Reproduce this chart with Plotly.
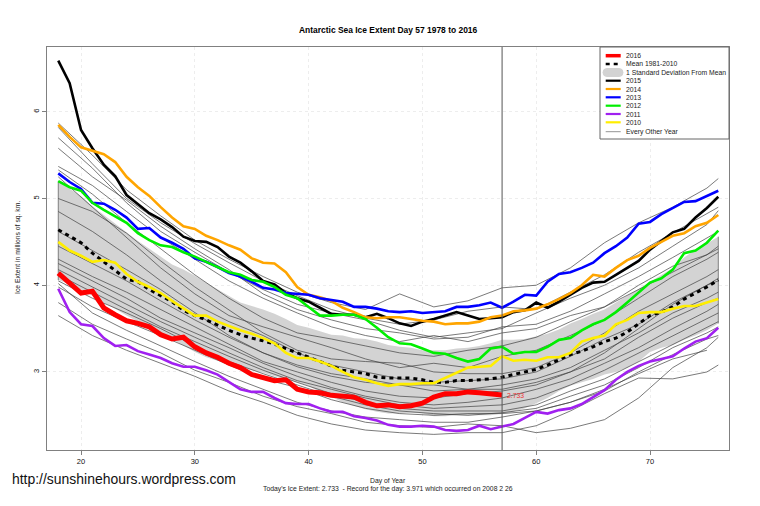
import plotly.graph_objects as go

# day of year axis for the highlighted years
days = list(range(18, 77))
days_2016 = list(range(18, 58))
# thin lines were read every third day
thin_days = [18, 21, 24, 27, 30, 33, 36, 39, 42, 45, 48, 51, 54, 57, 60, 63, 66, 69, 72, 75, 76]

ice_2016 = [4.14, 4.03, 3.91, 3.93, 3.74, 3.66, 3.59, 3.56, 3.52, 3.43, 3.38, 3.40, 3.29, 3.22, 3.17, 3.10, 3.05, 2.97, 2.93, 2.90,
            2.91, 2.80, 2.77, 2.76, 2.73, 2.72, 2.71, 2.65, 2.61, 2.62, 2.60, 2.61, 2.64, 2.71, 2.75, 2.75, 2.77, 2.76, 2.75, 2.733]
ice_mean = [4.64, 4.57, 4.49, 4.37, 4.27, 4.18, 4.07, 4.04, 3.95, 3.88, 3.81, 3.71, 3.65, 3.60, 3.54, 3.48, 3.43, 3.39, 3.36, 3.32,
            3.27, 3.22, 3.17, 3.12, 3.07, 3.02, 3.00, 2.98, 2.94, 2.93, 2.93, 2.93, 2.91, 2.88, 2.88, 2.90, 2.90, 2.91, 2.92, 2.94,
            2.97, 3.00, 3.03, 3.08, 3.14, 3.20, 3.24, 3.29, 3.35, 3.39, 3.46, 3.55, 3.65, 3.69, 3.75, 3.84, 3.91, 3.98, 4.06]
band_upper = [5.20, 5.12, 5.03, 4.91, 4.81, 4.70, 4.61, 4.51, 4.42, 4.33, 4.24, 4.18, 4.11, 4.03, 3.95, 3.87, 3.80, 3.76, 3.72, 3.67,
              3.61, 3.54, 3.51, 3.47, 3.43, 3.42, 3.39, 3.38, 3.35, 3.31, 3.29, 3.28, 3.25, 3.25, 3.25, 3.27, 3.28, 3.30, 3.33, 3.37,
              3.37, 3.38, 3.41, 3.44, 3.49, 3.56, 3.61, 3.67, 3.72, 3.80, 3.88, 3.96, 4.04, 4.12, 4.20, 4.32, 4.41, 4.48, 4.56]
band_lower = [4.06, 4.01, 3.95, 3.88, 3.80, 3.73, 3.65, 3.58, 3.51, 3.44, 3.38, 3.31, 3.23, 3.17, 3.13, 3.09, 3.06, 3.02, 2.99, 2.95,
              2.92, 2.88, 2.84, 2.77, 2.71, 2.65, 2.61, 2.57, 2.54, 2.52, 2.52, 2.53, 2.52, 2.49, 2.49, 2.50, 2.50, 2.50, 2.50, 2.52,
              2.54, 2.58, 2.64, 2.70, 2.78, 2.84, 2.88, 2.92, 2.97, 3.00, 3.05, 3.12, 3.23, 3.28, 3.31, 3.37, 3.42, 3.48, 3.56]
ice_2015 = [6.59, 6.33, 5.79, 5.58, 5.39, 5.26, 5.04, 4.93, 4.83, 4.76, 4.67, 4.56, 4.51, 4.50, 4.44, 4.33, 4.26, 4.16, 4.05, 4.01,
            3.91, 3.85, 3.81, 3.74, 3.67, 3.66, 3.66, 3.63, 3.67, 3.62, 3.56, 3.53, 3.58, 3.61, 3.65, 3.69, 3.65, 3.61, 3.62, 3.63,
            3.69, 3.71, 3.80, 3.74, 3.81, 3.89, 3.97, 4.03, 4.04, 4.12, 4.20, 4.28, 4.41, 4.51, 4.61, 4.65, 4.78, 4.89, 5.02]
ice_2014 = [5.85, 5.71, 5.59, 5.55, 5.51, 5.42, 5.25, 5.13, 5.03, 4.90, 4.78, 4.68, 4.65, 4.57, 4.52, 4.46, 4.41, 4.31, 4.26, 4.25,
            4.15, 3.98, 3.89, 3.86, 3.82, 3.74, 3.69, 3.63, 3.62, 3.63, 3.63, 3.61, 3.59, 3.58, 3.55, 3.56, 3.56, 3.58, 3.63, 3.65,
            3.70, 3.71, 3.73, 3.78, 3.84, 3.91, 4.00, 4.12, 4.10, 4.20, 4.29, 4.34, 4.43, 4.50, 4.57, 4.60, 4.68, 4.72, 4.81]
ice_2013 = [5.29, 5.19, 5.11, 4.95, 4.94, 4.87, 4.78, 4.65, 4.66, 4.55, 4.49, 4.42, 4.31, 4.27, 4.21, 4.14, 4.10, 4.04, 3.97, 3.95,
            3.91, 3.90, 3.89, 3.85, 3.83, 3.81, 3.75, 3.75, 3.73, 3.70, 3.69, 3.70, 3.68, 3.69, 3.70, 3.75, 3.75, 3.77, 3.80, 3.74,
            3.81, 3.89, 3.88, 4.04, 4.13, 4.15, 4.20, 4.26, 4.37, 4.45, 4.55, 4.71, 4.73, 4.82, 4.89, 4.96, 4.97, 5.03, 5.09]
ice_2012 = [5.20, 5.13, 5.09, 4.95, 4.87, 4.79, 4.72, 4.60, 4.52, 4.46, 4.44, 4.38, 4.33, 4.27, 4.21, 4.15, 4.12, 4.06, 4.04, 3.98,
            3.89, 3.85, 3.75, 3.65, 3.65, 3.66, 3.66, 3.61, 3.51, 3.40, 3.33, 3.32, 3.27, 3.22, 3.21, 3.16, 3.12, 3.15, 3.27, 3.29,
            3.21, 3.23, 3.23, 3.29, 3.37, 3.39, 3.48, 3.55, 3.60, 3.69, 3.80, 3.91, 4.03, 4.08, 4.18, 4.37, 4.40, 4.49, 4.63]
ice_2011 = [3.96, 3.69, 3.55, 3.53, 3.39, 3.30, 3.31, 3.24, 3.20, 3.16, 3.10, 3.06, 3.06, 3.02, 2.97, 2.88, 2.80, 2.77, 2.77, 2.70,
            2.64, 2.63, 2.63, 2.58, 2.54, 2.54, 2.49, 2.47, 2.44, 2.39, 2.37, 2.37, 2.38, 2.37, 2.33, 2.32, 2.33, 2.38, 2.34, 2.37,
            2.40, 2.47, 2.54, 2.52, 2.56, 2.58, 2.63, 2.71, 2.79, 2.91, 3.00, 3.07, 3.12, 3.15, 3.18, 3.27, 3.35, 3.39, 3.51]
ice_2010 = [4.50, 4.40, 4.34, 4.27, 4.29, 4.26, 4.13, 4.04, 3.98, 3.91, 3.82, 3.73, 3.65, 3.65, 3.58, 3.53, 3.48, 3.44, 3.39, 3.33,
            3.22, 3.16, 3.16, 3.12, 3.07, 3.00, 2.94, 2.91, 2.87, 2.84, 2.86, 2.86, 2.87, 2.87, 2.93, 2.99, 3.05, 3.06, 3.07, 3.18,
            3.13, 3.14, 3.13, 3.17, 3.17, 3.22, 3.35, 3.39, 3.42, 3.55, 3.60, 3.68, 3.69, 3.69, 3.73, 3.76, 3.76, 3.80, 3.84]

thin_01 = [5.87, 5.50, 5.10, 4.80, 4.52, 4.30, 4.10, 3.92, 3.80, 3.72, 3.90, 3.75, 3.82, 3.97, 4.00, 4.20, 4.49, 4.72, 4.90, 5.12, 5.23]
thin_02 = [5.82, 5.40, 5.00, 4.72, 4.48, 4.26, 4.05, 3.88, 3.72, 3.62, 3.55, 3.60, 3.70, 3.75, 3.72, 3.92, 4.12, 4.38, 4.60, 4.82, 4.90]
thin_03 = [5.70, 5.35, 4.95, 4.62, 4.38, 4.15, 3.95, 3.78, 3.68, 3.60, 3.48, 3.40, 3.45, 3.50, 3.68, 3.85, 4.00, 4.20, 4.45, 4.70, 4.86]
thin_04 = [5.58, 5.25, 4.98, 4.68, 4.42, 4.18, 3.90, 3.72, 3.60, 3.50, 3.45, 3.38, 3.40, 3.52, 3.55, 3.70, 3.90, 4.10, 4.32, 4.55, 4.62]
thin_05 = [5.37, 5.15, 4.85, 4.55, 4.30, 4.05, 3.85, 3.68, 3.52, 3.42, 3.35, 3.42, 3.35, 3.45, 3.50, 3.65, 3.75, 3.95, 4.15, 4.35, 4.42]
thin_06 = [5.33, 5.05, 4.72, 4.42, 4.12, 3.85, 3.62, 3.45, 3.38, 3.30, 3.22, 3.18, 3.25, 3.30, 3.40, 3.58, 3.75, 4.00, 4.22, 4.35, 4.45]
thin_07 = [5.25, 4.90, 4.55, 4.20, 3.90, 3.65, 3.52, 3.40, 3.28, 3.15, 3.05, 3.10, 3.05, 3.18, 3.25, 3.42, 3.60, 3.85, 4.10, 4.30, 4.38]
thin_08 = [5.00, 4.85, 4.60, 4.28, 3.98, 3.72, 3.45, 3.25, 3.15, 3.12, 3.10, 3.00, 2.98, 2.98, 3.05, 3.22, 3.45, 3.70, 3.90, 4.10, 4.18]
thin_09 = [4.85, 4.62, 4.35, 4.05, 3.78, 3.58, 3.42, 3.22, 3.08, 3.00, 2.92, 2.88, 2.90, 2.92, 3.00, 3.18, 3.38, 3.55, 3.80, 4.00, 4.05]
thin_10 = [4.62, 4.40, 4.18, 3.95, 3.68, 3.42, 3.22, 3.08, 2.98, 2.92, 2.85, 2.78, 2.80, 2.85, 2.92, 3.05, 3.25, 3.45, 3.68, 3.85, 3.92]
thin_11 = [4.45, 4.25, 4.05, 3.82, 3.60, 3.40, 3.22, 3.06, 2.95, 2.88, 2.85, 2.85, 2.80, 2.80, 2.88, 3.00, 3.22, 3.50, 3.78, 4.00, 4.08]
thin_12 = [4.30, 4.10, 3.92, 3.72, 3.52, 3.32, 3.12, 3.00, 2.88, 2.78, 2.72, 2.70, 2.75, 2.78, 2.85, 3.00, 3.15, 3.40, 3.62, 3.80, 3.85]
thin_13 = [4.25, 4.05, 3.85, 3.62, 3.45, 3.28, 3.10, 2.95, 2.82, 2.72, 2.65, 2.62, 2.65, 2.70, 2.80, 2.92, 3.10, 3.28, 3.50, 3.70, 3.78]
thin_14 = [4.18, 3.98, 3.78, 3.58, 3.40, 3.22, 3.05, 2.90, 2.80, 2.70, 2.62, 2.58, 2.60, 2.62, 2.70, 2.85, 3.02, 3.22, 3.42, 3.62, 3.68]
thin_15 = [4.12, 3.92, 3.72, 3.52, 3.35, 3.18, 3.02, 2.88, 2.75, 2.65, 2.58, 2.55, 2.55, 2.55, 2.62, 2.78, 2.92, 3.12, 3.32, 3.52, 3.58]
thin_16 = [4.05, 3.85, 3.68, 3.50, 3.30, 3.12, 2.98, 2.85, 2.72, 2.62, 2.55, 2.52, 2.50, 2.53, 2.58, 2.72, 2.85, 3.05, 3.28, 3.45, 3.52]
thin_17 = [3.98, 3.75, 3.58, 3.42, 3.25, 3.08, 2.92, 2.82, 2.68, 2.58, 2.52, 2.50, 2.52, 2.52, 2.55, 2.65, 2.78, 3.00, 3.20, 3.38, 3.42]
thin_18 = [4.02, 3.68, 3.48, 3.30, 3.12, 2.95, 2.80, 2.65, 2.55, 2.48, 2.45, 2.42, 2.42, 2.48, 2.55, 2.65, 2.80, 2.98, 3.15, 3.25, None]
thin_19 = [3.80, 3.55, 3.38, 3.22, 3.02, 2.88, 2.72, 2.60, 2.52, 2.42, 2.38, 2.36, 2.40, 2.38, 2.30, 2.35, 2.45, 2.70, 3.05, 3.28, 3.40]
thin_20 = [3.65, 3.42, 3.25, 3.10, 2.95, 2.78, 2.65, 2.50, 2.40, 2.33, 2.30, 2.28, 2.30, 2.30, 2.38, 2.55, 2.75, 2.93, 2.92, 3.00, 3.08]

thin_series = [thin_01, thin_02, thin_03, thin_04, thin_05, thin_06, thin_07, thin_08, thin_09, thin_10,
               thin_11, thin_12, thin_13, thin_14, thin_15, thin_16, thin_17, thin_18, thin_19, thin_20]

today_day = 57
today_value = 2.733

x_ticks = [20, 30, 40, 50, 60, 70]
y_ticks = [3, 4, 5, 6]

legend_rows = ['2016', 'Mean 1981-2010', '1 Standard Deviation From Mean', '2015', '2014', '2013',
               '2012', '2011', '2010', 'Every Other Year']

# plot area in window pixels, used for the hand built legend and the outer texts
PX_L, PX_R, PX_T, PX_B = 47, 729, 47, 450
# the page body has an 8px margin, so the figure is smaller and starts 8px in
BODY = 8
WIDTH, HEIGHT = 744, 490
FONT = 'Liberation Sans'
LIGHT_GREY = '#d3d3d3'
THIN = '#404040'


def px(x):
    return (x - PX_L) / (PX_R - PX_L)


def py(y):
    return (PX_B - y) / (PX_B - PX_T)


def label(x, y, text, size, anchor='left', color='#222222', angle=0):
    return dict(x=px(x), y=py(y), xref='paper', yref='paper', text=text, showarrow=False,
                xanchor=anchor, yanchor='middle', textangle=angle,
                font=dict(family=FONT, size=size, color=color))


fig = go.Figure()

fig.add_trace(go.Scatter(x=days + days[::-1], y=band_upper + band_lower[::-1], mode='lines',
                         fill='toself', fillcolor=LIGHT_GREY, line=dict(width=0)))

# the polygon shows a dark border only at its two ends
for end in (0, -1):
    fig.add_trace(go.Scatter(x=[days[end], days[end]], y=[band_upper[end], band_lower[end]], mode='lines',
                             line=dict(color='#666666', width=0.8)))

for t in thin_series:
    fig.add_trace(go.Scatter(x=thin_days, y=t, mode='lines', line=dict(color=THIN, width=0.7)))

fig.add_trace(go.Scatter(x=days, y=ice_mean, mode='lines', line=dict(color='black', width=3, dash='4px,4px')))

highlighted = [
    (ice_2015, 'black'),
    (ice_2014, 'orange'),
    (ice_2013, 'blue'),
    (ice_2012, '#00ee00'),
    (ice_2011, '#a020f0'),
    (ice_2010, '#ffee00'),
]

for values, color in highlighted:
    fig.add_trace(go.Scatter(x=days, y=values, mode='lines', line=dict(color=color, width=2.6)))

fig.add_trace(go.Scatter(x=days_2016, y=ice_2016, mode='lines', line=dict(color='red', width=5)))

shapes = [
    dict(type='line', xref='x', yref='paper', x0=today_day, x1=today_day, y0=0, y1=1,
         line=dict(color='#555555', width=1)),
    dict(type='rect', xref='paper', yref='paper', x0=px(600), x1=px(729), y0=py(47), y1=py(139),
         line=dict(color='#666666', width=1), fillcolor='white'),
]

rows_y = [55.7, 64, 72.3, 80.7, 89, 97.3, 105.7, 114, 122.3, 131.7]
samples = [('red', 3.5, None), ('black', 2.5, '4px,4px'), None, ('black', 2.2, None), ('orange', 2.2, None),
           ('blue', 2.2, None), ('#00ee00', 2.2, None), ('#a020f0', 2.2, None), ('#ffee00', 2.2, None),
           ('#777777', 0.8, None)]

annotations = []

for text, row, sample in zip(legend_rows, rows_y, samples):
    annotations.append(label(623.5, row, text, 6.8))
    if sample:
        shapes.append(dict(type='line', xref='paper', yref='paper', x0=px(605.7), x1=px(620.7), y0=py(row), y1=py(row),
                           line=dict(color=sample[0], width=sample[1], dash=sample[2] or 'solid')))

# rounded grey swatch for the band
x0, x1, y0, y1, r = px(603), px(623), py(68.5), py(76.5), 4
rx = r / (PX_R - PX_L)
ry = r / (PX_B - PX_T)
swatch = (f'M {x0 + rx} {y0} L {x1 - rx} {y0} Q {x1} {y0} {x1} {y0 - ry} Q {x1} {y1} {x1 - rx} {y1} '
          f'L {x0 + rx} {y1} Q {x0} {y1} {x0} {y0 - ry} Q {x0} {y0} {x0 + rx} {y0} Z')
shapes.append(dict(type='path', xref='paper', yref='paper', path=swatch,
                   line=dict(color=LIGHT_GREY, width=1), fillcolor=LIGHT_GREY))

annotations += [
    label(388, 30, '<b>Antarctic Sea Ice Extent Day 57 1978 to 2016</b>', 8.45, anchor='center', color='black'),
    label(388, 480.5, 'Day of Year', 6.8, anchor='center'),
    label(388, 489, "Today's Ice Extent: 2.733  - Record for the day: 3.971 which occurred on 2008 2 26", 6.8, anchor='center'),
    label(18, 248, 'Ice Extent in millions of sq. km.', 6.8, anchor='center', angle=-90),
    label(10, 479, 'http://sunshinehours.wordpress.com', 13.95, color='#111111'),
    dict(x=today_day, y=today_value, xref='x', yref='y', text='2.733', showarrow=False, xanchor='left', xshift=3,
         font=dict(family=FONT, size=6.8, color='#ee3333')),
]

fig.update_layout(
    width=WIDTH,
    height=HEIGHT,
    margin=dict(l=PX_L - BODY, r=WIDTH - (PX_R - BODY), t=PX_T - BODY, b=HEIGHT - (PX_B - BODY)),
    paper_bgcolor='white',
    plot_bgcolor='white',
    showlegend=False,
    shapes=shapes,
    annotations=annotations,
    font=dict(family=FONT, size=7.5, color='#111111'),
)

axis_style = dict(showline=True, mirror=True, linecolor='#808080', linewidth=1, ticks='outside', ticklen=4,
                  tickcolor='#808080', showgrid=True, gridcolor='#ededed', griddash='dot', gridwidth=1, zeroline=False)

fig.update_xaxes(range=[17.01, 76.94], tickvals=x_ticks, **axis_style)
fig.update_yaxes(range=[2.10, 6.747], tickvals=y_ticks, tickangle=-90, **axis_style)

fig.write_html('out.html')
